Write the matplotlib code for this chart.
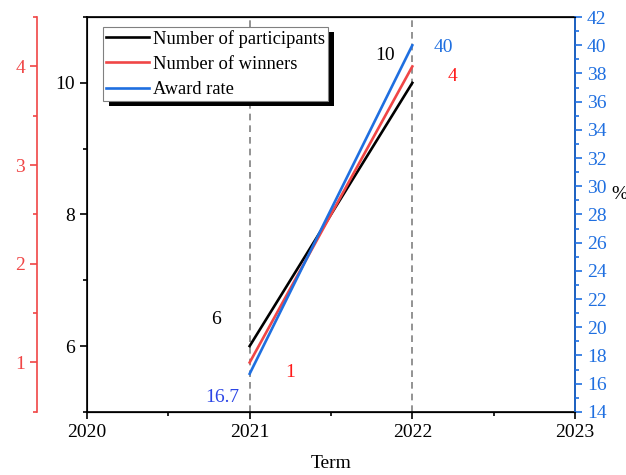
import matplotlib.pyplot as plt
from matplotlib.ticker import MultipleLocator
from matplotlib.patches import Rectangle

plt.rcParams['font.family'] = ['Liberation Serif', 'DejaVu Serif']

# Data
terms = [2021, 2022]
participants = [6, 10]
winners = [1, 4]
award_rate = [16.7, 40]

BLACK = '#000000'
RED = '#f04646'
BLUE = '#1f6fe0'

fig = plt.figure(figsize=(6.26, 4.75), dpi=100)
ax = fig.add_axes([0.139, 0.133, 0.7795, 0.831])

# participants on the main left axis
l1, = ax.plot(terms, participants, color=BLACK, lw=1.9, label='Number of participants')
ax.set_xlim(2020, 2023)
ax.set_ylim(5, 11)
ax.set_xticks([2020, 2021, 2022, 2023])
ax.xaxis.set_minor_locator(MultipleLocator(0.5))
ax.yaxis.set_major_locator(MultipleLocator(2))
ax.yaxis.set_minor_locator(MultipleLocator(1))
ax.tick_params(which='major', direction='out', length=5, width=1.2, labelsize=14)
ax.tick_params(which='minor', direction='out', length=3, width=1.2)
ax.set_xlabel('Term', fontsize=14, labelpad=10)
for s in ax.spines.values():
    s.set_linewidth(1.2)
for t in terms:
    ax.axvline(t, color='gray', ls=(0, (4, 3)), lw=1.2, zorder=0)

# winners on offset red axis
axr = ax.twinx()
axr.spines['right'].set_visible(False)
axr.spines['left'].set_visible(True)
axr.spines['left'].set_position(('outward', 36))
axr.spines['left'].set_color(RED)
axr.spines['left'].set_linewidth(1.2)
axr.yaxis.set_ticks_position('left')
axr.yaxis.set_label_position('left')
l2, = axr.plot(terms, winners, color=RED, lw=1.9, label='Number of winners')
axr.set_ylim(0.5, 4.5)
axr.yaxis.set_major_locator(MultipleLocator(1))
axr.yaxis.set_minor_locator(MultipleLocator(0.5))
axr.tick_params(axis='y', which='major', colors=RED, direction='out', length=5, width=1.2, labelsize=14)
axr.tick_params(axis='y', which='minor', colors=RED, direction='out', length=3, width=1.2)

# award rate on right blue axis
axb = ax.twinx()
l3, = axb.plot(terms, award_rate, color=BLUE, lw=1.9, label='Award rate')
axb.set_ylim(14, 42)
axb.yaxis.set_major_locator(MultipleLocator(2))
axb.yaxis.set_minor_locator(MultipleLocator(1))
axb.spines['right'].set_color(BLUE)
axb.spines['right'].set_linewidth(1.2)
axb.tick_params(axis='y', which='major', colors=BLUE, direction='out', length=5, width=1.2, labelsize=14)
axb.tick_params(axis='y', which='minor', colors=BLUE, direction='out', length=3, width=1.2)
axb.set_ylabel('%', rotation=0, fontsize=14, ha='left', va='center')
axb.yaxis.set_label_coords(1.074, 0.55)

# value labels
kw = dict(fontsize=14, ha='left', va='baseline')
ax.text(2020.76, 6.33, '6', color=BLACK, **kw)
ax.text(2021.77, 10.35, '10', color=BLACK, **kw)
axr.text(2021.22, 0.85, '1', color='#ff1a1a', **kw)
axr.text(2022.22, 3.85, '4', color='#ff1a1a', **kw)
axb.text(2020.725, 14.7, '16.7', color='#2b45e6', **kw)
axb.text(2022.13, 39.5, '40', color=BLUE, **kw)

leg = axb.legend(handles=[l1, l2, l3], loc='upper left', bbox_to_anchor=(0.033, 0.975),
                 fontsize=13.3, frameon=True, fancybox=False, shadow=False,
                 handlelength=2.35, handletextpad=0.22, borderpad=0.15, labelspacing=0.45,
                 borderaxespad=0)
leg.get_frame().set_edgecolor('gray')
leg.get_frame().set_linewidth(0.8)
leg.get_frame().set_alpha(1)

# hard black shadow behind legend
fig.canvas.draw()
bb = leg.get_window_extent()
inv = axb.transAxes.inverted()
(x0, y0), (x1, y1) = inv.transform([(bb.x0 + 6, bb.y0 - 5), (bb.x1 + 6, bb.y1 - 5)])
axb.add_patch(Rectangle((x0, y0), x1 - x0, y1 - y0, transform=axb.transAxes,
                        facecolor='black', edgecolor='none', zorder=4.9, clip_on=False))

fig.savefig('out.png', dpi=100)
